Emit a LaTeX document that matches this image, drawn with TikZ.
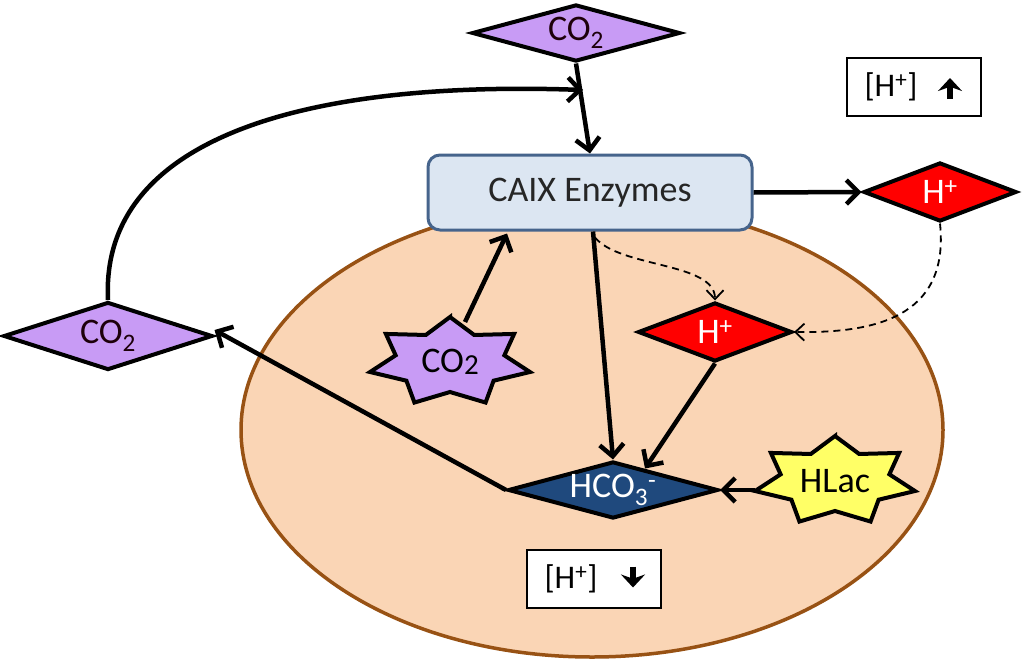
\documentclass[tikz,border=0pt]{standalone}
\usepackage{fontspec}
\setmainfont{Carlito}
\usetikzlibrary{shapes.geometric,arrows.meta,calc}
\definecolor{purp}{RGB}{200,155,245}
\definecolor{peach}{RGB}{250,213,181}
\definecolor{brownline}{RGB}{152,82,20}
\definecolor{caixfill}{RGB}{220,230,242}
\definecolor{caixline}{RGB}{70,100,140}
\definecolor{darkblue}{RGB}{31,73,125}
\definecolor{lightyellow}{RGB}{255,255,102}
\tikzset{
  dia/.style={diamond, draw=black, line width=4pt, inner sep=0pt, shape aspect=3.6, font=\fontsize{36}{36}\selectfont},
  co2dia/.style={dia, fill=purp, text=black!85!purple},
  hdia/.style={dia, fill=red, text=white},
  starbody/.style={draw=black, line width=4pt, line join=miter},
  starnode/.style={inner sep=0pt, font=\fontsize{36}{36}\selectfont},
  conc/.style={line width=4.5pt, -{Straight Barb[length=12pt,width=24pt,line width=4.5pt]}},
  dconc/.style={line width=1.8pt, dash pattern=on 7pt off 5pt, -{Straight Barb[length=9pt,width=17pt,line width=1.8pt]}},
  hbox/.style={draw=black, line width=2pt, fill=white, minimum width=134pt, minimum height=58pt, font=\fontsize{33}{33}\selectfont},
  bigarrow/.style={line width=6pt, -{Stealth[length=13pt,width=24pt]}},
}
\newcommand{\sevenstar}[3]{% center, x radius, fill
  \draw[starbody, fill=#3, shift={#1}] (90:#2pt and 45pt)
    \foreach \k in {0,...,6}{ -- ({90+\k*51.4286+25.7143}:{0.68*#2pt} and 30pt) -- ({90+(\k+1)*51.4286}:#2pt and 45pt)} -- cycle;}
\begin{document}
\begin{tikzpicture}[x=1pt,y=1pt]
\useasboundingbox (0,0) rectangle (1024,-661);
% cell ellipse
\draw[fill=peach, draw=brownline, line width=3.5pt] (592,-430) ellipse [x radius=351, y radius=227];

% nodes
\node[draw=caixline, line width=3pt, fill=caixfill, rounded corners=12pt, minimum width=324pt, minimum height=75pt, font=\fontsize{36}{36}\selectfont, text=black!85] (caix) at (590,-192.5) {CAIX Enzymes};
\node[co2dia, minimum width=208pt, minimum height=57pt] (tco2) at (576,-33) {CO\textsubscript{2}};
\node[co2dia, minimum width=209pt, minimum height=68pt] (lco2) at (108,-336) {CO\textsubscript{2}};
\node[hdia, minimum width=153pt, minimum height=59pt] (rh) at (940,-192) {H\textsuperscript{+}};
\node[hdia, minimum width=154pt, minimum height=59pt] (mh) at (715,-332) {H\textsuperscript{+}};
\node[dia, fill=darkblue, text=white, minimum width=210pt, minimum height=57pt] (hco3) at (613,-490) {HCO\textsubscript{3}\textsuperscript{-}};

% stars
\sevenstar{(450,-362)}{82}{purp}
\node[starnode] (co2s) at (450,-362) {CO\raisebox{-2pt}{\fontsize{29}{29}\selectfont 2}};
\sevenstar{(835,-481)}{82}{lightyellow}
\node[starnode] (hlac) at (835,-481) {HLac};

% [H+] boxes
\node[hbox] (hup) at (914,-87) {[H\textsuperscript{+}]\kern46pt};
\draw[bigarrow] ($(hup.center)+(36,-12)$) -- ++(0,21);
\node[hbox] (hdown) at (594,-578.5) {[H\textsuperscript{+}]\kern46pt};
\draw[bigarrow] ($(hdown.center)+(39,12)$) -- ++(0,-21);

% connectors
\coordinate (meet) at (583,-90);
\draw[conc] (lco2.north) .. controls (100,-140) and (300,-80) .. (meet);
\draw[conc] (tco2.south) -- (caix.north);
\draw[conc] (caix.east) -- (rh.west);
\draw[conc] ($(co2s)+(15,40)$) -- ($(caix.south)+(-83,-2)$);
\draw[conc] ($(caix.south)+(3,0)$) -- (hco3.north);
\draw[conc] (mh.south) -- ($(hco3.north)+(32,-9)$);
\draw[conc] ($(hlac)+(-80,-9)$) -- (hco3.east);
\draw[conc] (hco3.west) -- ($(lco2.east)+(0,6)$);
\draw[dconc] ($(caix.south)+(5,-6)$) .. controls (620,-268) and (715,-262) .. (mh.north);
\draw[dconc] (rh.south) .. controls (950,-320) and (870,-333) .. (mh.east);
\end{tikzpicture}
\end{document}
